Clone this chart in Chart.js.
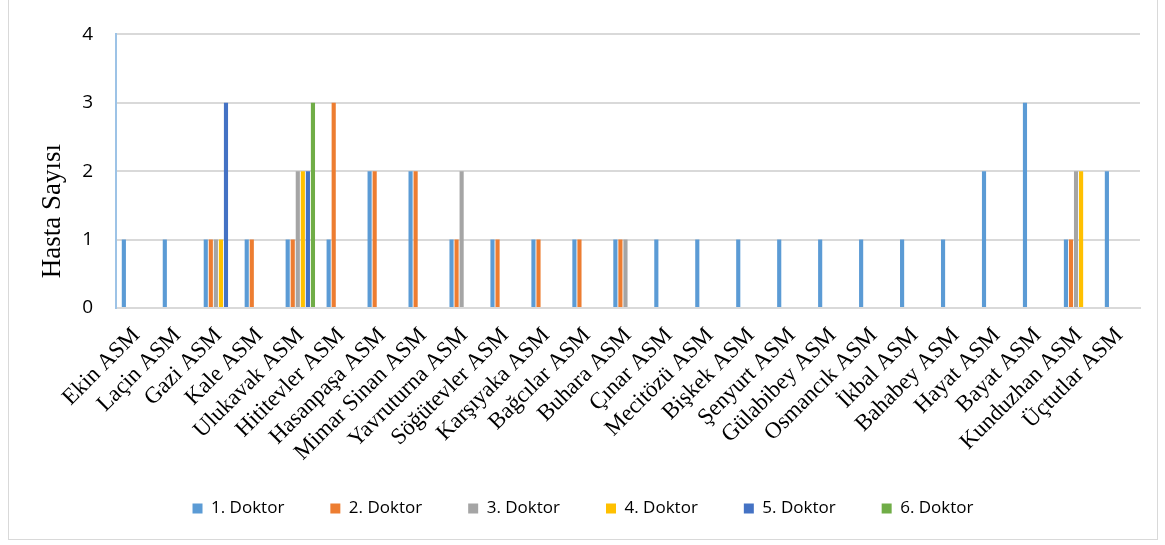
<!DOCTYPE html>
<html>
<head>
<meta charset="utf-8">
<script src="https://cdn.jsdelivr.net/npm/chart.js@4/dist/chart.umd.min.js"></script>
<style>
    body { margin: 0; background: #fff; }
    #frame { position: absolute; left: 8px; top: -2px; width: 1148px; height: 540px; border: 1px solid #d9d9d9; }
    #wrap { position: absolute; left: 0; top: 0; width: 1165px; height: 545px; }
</style>
</head>
<body>
<div id="frame"></div>
<div id="wrap"><canvas id="chart"></canvas></div>
<script>
const categories = ['Ekin ASM', 'Laçin ASM', 'Gazi ASM', 'Kale ASM', 'Ulukavak ASM', 'Hititevler ASM',
    'Hasanpaşa ASM', 'Mimar Sinan ASM', 'Yavruturna ASM', 'Söğütevler ASM', 'Karşıyaka ASM',
    'Bağcılar ASM', 'Buhara ASM', 'Çınar ASM', 'Mecitözü ASM', 'Bişkek ASM', 'Şenyurt ASM',
    'Gülabibey ASM', 'Osmancık ASM', 'İkbal ASM', 'Bahabey ASM', 'Hayat ASM', 'Bayat ASM',
    'Kunduzhan ASM', 'Üçtutlar ASM'];

const seriesNames = ['1. Doktor', '2. Doktor', '3. Doktor', '4. Doktor', '5. Doktor', '6. Doktor'];
const seriesColors = ['#5b9bd5', '#ed7d31', '#a5a5a5', '#ffc000', '#4472c4', '#70ad47'];

const doktor1 = [1, 1, 1, 1, 1, 1, 2, 2, 1, 1, 1, 1, 1, 1, 1, 1, 1, 1, 1, 1, 1, 2, 3, 1, 2];
const doktor2 = [0, 0, 1, 1, 1, 3, 2, 2, 1, 1, 1, 1, 1, 0, 0, 0, 0, 0, 0, 0, 0, 0, 0, 1, 0];
const doktor3 = [0, 0, 1, 0, 2, 0, 0, 0, 2, 0, 0, 0, 1, 0, 0, 0, 0, 0, 0, 0, 0, 0, 0, 2, 0];
const doktor4 = [0, 0, 1, 0, 2, 0, 0, 0, 0, 0, 0, 0, 0, 0, 0, 0, 0, 0, 0, 0, 0, 0, 0, 2, 0];
const doktor5 = [0, 0, 3, 0, 2, 0, 0, 0, 0, 0, 0, 0, 0, 0, 0, 0, 0, 0, 0, 0, 0, 0, 0, 0, 0];
const doktor6 = [0, 0, 0, 0, 3, 0, 0, 0, 0, 0, 0, 0, 0, 0, 0, 0, 0, 0, 0, 0, 0, 0, 0, 0, 0];

const yTicks = [0, 1, 2, 3, 4];
const yTitle = 'Hasta Sayısı';

const allSeries = [doktor1, doktor2, doktor3, doktor4, doktor5, doktor6];

// y axis title sits a bit below the middle in the original, so draw it by hand
const yTitlePlugin = {
    id: 'yTitle',
    afterDraw(chart) {
        const c = chart.ctx;
        const area = chart.chartArea;
        c.save();
        c.translate(53, (area.top + area.bottom) / 2 + 40);
        c.rotate(-Math.PI / 2);
        c.font = '27px "Liberation Serif"';
        c.fillStyle = '#000';
        c.textAlign = 'center';
        c.textBaseline = 'middle';
        c.fillText(yTitle, 0, 0);
        c.restore();
    }
};

const ctx = document.getElementById('chart').getContext('2d');
new Chart(ctx, {
    type: 'bar',
    data: {
        labels: categories,
        datasets: allSeries.map((vals, i) => ({
            label: seriesNames[i],
            data: vals,
            backgroundColor: seriesColors[i],
            categoryPercentage: 0.74,
            barPercentage: 0.82
        }))
    },
    plugins: [yTitlePlugin],
    options: {
        responsive: true,
        maintainAspectRatio: false,
        animation: false,
        layout: { padding: { left: 26, right: 25, top: 33, bottom: 18 } },
        plugins: {
            tooltip: { enabled: false },
            legend: {
                position: 'bottom',
                labels: {
                    boxWidth: 10,
                    boxHeight: 10,
                    padding: 46,
                    color: '#000',
                    font: { family: 'Open Sans', size: 17 }
                }
            }
        },
        scales: {
            x: {
                grid: { display: false, drawTicks: false },
                border: { display: true, color: '#d9d9d9', width: 2 },
                ticks: {
                    autoSkip: false,
                    maxRotation: 45,
                    minRotation: 45,
                    padding: 14,
                    color: '#000',
                    font: { family: 'Liberation Serif', size: 23 }
                },
                afterFit: scale => {
                    scale.height = 146;
                    // long labels run down past the legend's top edge, don't cut them
                    scale._computeLabelArea = () => null;
                }
            },
            y: {
                min: 0,
                max: 4,
                afterBuildTicks: scale => { scale.ticks = yTicks.map(v => ({ value: v })); },
                grid: { color: '#d9d9d9', lineWidth: 2, drawTicks: false },
                border: { display: true, color: '#9dc3e6', width: 2 },
                ticks: {
                    padding: 23,
                    color: '#000',
                    font: { family: 'Open Sans', size: 19 }
                },
                afterFit: scale => { scale.width = 90; }
            }
        }
    }
});
</script>
</body>
</html>
